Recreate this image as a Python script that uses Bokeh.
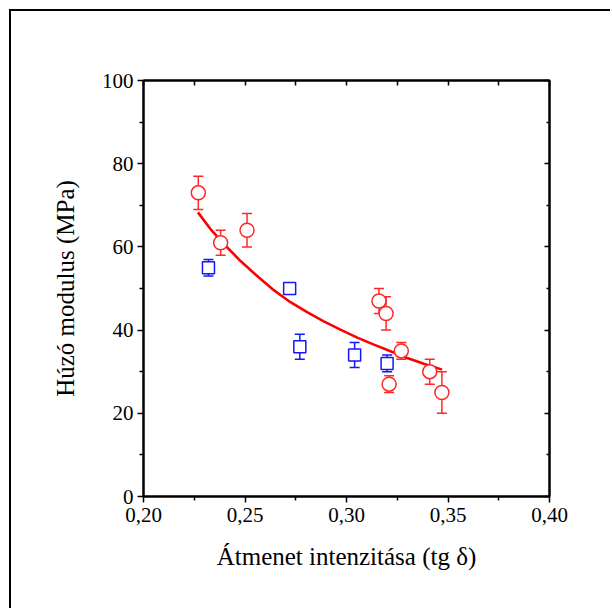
from bokeh.plotting import figure
from bokeh.models import (ColumnDataSource, Whisker, TeeHead, LinearAxis,
                          CustomJSTickFormatter, FixedTicker, Range1d)
from bokeh.embed import file_html
from bokeh.resources import INLINE

# --- data ---
red_x = [0.227, 0.238, 0.251, 0.316, 0.3195, 0.327, 0.321, 0.341, 0.347]
red_y = [73, 61, 64, 47, 44, 35, 27, 30, 25]
red_err = [4, 3, 4, 3, 4, 2, 2, 3, 5]

blue_x = [0.232, 0.272, 0.277, 0.304, 0.320]
blue_y = [55, 50, 36, 34, 32]
blue_err = [2, 1, 3, 3, 2]

fit_x = [0.2268, 0.2330, 0.2396, 0.2478, 0.2560, 0.2642, 0.2724, 0.2806,
         0.2888, 0.2970, 0.3053, 0.3135, 0.3217, 0.3299, 0.3381, 0.3471]
fit_y = [68.3, 64.3, 60.7, 56.6, 53.0, 49.6, 46.7, 44.3,
         42.1, 40.1, 38.2, 36.5, 34.9, 33.3, 31.9, 30.5]

x_ticks = [0.20, 0.25, 0.30, 0.35, 0.40]
x_minor = [0.225, 0.275, 0.325, 0.375]
y_ticks = [0, 20, 40, 60, 80, 100]
y_minor = [10, 30, 50, 70, 90]
x_label = "Átmenet intenzitása (tg δ)"
y_label = "Húzó modulus (MPa)"

FONT = "'Liberation Serif', 'Times New Roman', serif"
RED = "#ff2828"
BLUE = "#1414ff"

p = figure(width=601, height=599, output_backend="svg", toolbar_location=None,
           x_range=Range1d(0.20, 0.40), y_range=Range1d(0, 100),
           min_border_left=132, min_border_right=63, min_border_top=69,
           min_border_bottom=114, background_fill_color="white",
           border_fill_color="white", outline_line_color="black",
           outline_line_width=2,
           styles={"border-left": "2px solid black", "border-top": "2px solid black",
                   "margin-left": "9px", "margin-top": "9px"})
p.grid.visible = False

red_src = ColumnDataSource(dict(x=red_x, y=red_y,
                                lo=[v - e for v, e in zip(red_y, red_err)],
                                hi=[v + e for v, e in zip(red_y, red_err)]))
blue_src = ColumnDataSource(dict(x=blue_x, y=blue_y,
                                 lo=[v - e for v, e in zip(blue_y, blue_err)],
                                 hi=[v + e for v, e in zip(blue_y, blue_err)]))

for src, col in ((red_src, RED), (blue_src, BLUE)):
    w = Whisker(source=src, base="x", lower="lo", upper="hi",
                line_color=col, line_width=1.5,
                upper_head=TeeHead(size=10, line_color=col, line_width=1.5),
                lower_head=TeeHead(size=10, line_color=col, line_width=1.5))
    p.add_layout(w)

p.line(fit_x, fit_y, line_color="#ff0000", line_width=2.6)

p.scatter("x", "y", source=red_src, marker="circle", size=14,
          fill_color="white", line_color=RED, line_width=1.5)
p.scatter("x", "y", source=blue_src, marker="square", size=12,
          fill_color="white", line_color=BLUE, line_width=1.5)

fmt = CustomJSTickFormatter(code="return tick.toFixed(2).replace('.', ',');")
blank = CustomJSTickFormatter(code="return '';")

xa = p.xaxis[0]
xa.ticker = FixedTicker(ticks=x_ticks, minor_ticks=x_minor)
xa.formatter = fmt
ya = p.yaxis[0]
ya.ticker = FixedTicker(ticks=y_ticks, minor_ticks=y_minor)

for ax in (xa, ya):
    ax.axis_line_width = 2
    ax.major_tick_line_width = 1.5
    ax.minor_tick_line_width = 1.5
    ax.major_tick_out = 6
    ax.major_tick_in = 0
    ax.minor_tick_out = 4
    ax.minor_tick_in = 0
    ax.major_label_text_font = FONT
    ax.major_label_text_font_size = "21px"
    ax.major_label_text_color = "black"
    ax.axis_label_text_font = FONT
    ax.axis_label_text_font_size = "25px"
    ax.axis_label_text_font_style = "normal"
    ax.axis_label_text_color = "black"

xa.axis_label = x_label
ya.axis_label = y_label
xa.major_label_standoff = 5
ya.major_label_standoff = 4
xa.axis_label_standoff = 18
ya.axis_label_standoff = 20

top = LinearAxis(ticker=FixedTicker(ticks=x_ticks, minor_ticks=x_minor),
                 formatter=blank, axis_line_width=2,
                 major_tick_in=5, major_tick_out=0, minor_tick_in=5, minor_tick_out=0,
                 major_tick_line_width=1.5, minor_tick_line_width=1.5,
                 major_label_standoff=0)
right = LinearAxis(ticker=FixedTicker(ticks=y_ticks, minor_ticks=y_minor),
                   formatter=blank, axis_line_width=2,
                   major_tick_in=5, major_tick_out=0, minor_tick_in=3, minor_tick_out=0,
                   major_tick_line_width=1.5, minor_tick_line_width=1.5,
                   major_label_standoff=0)
p.add_layout(top, "above")
p.add_layout(right, "right")

open("out.html", "w").write(file_html(p, INLINE))
